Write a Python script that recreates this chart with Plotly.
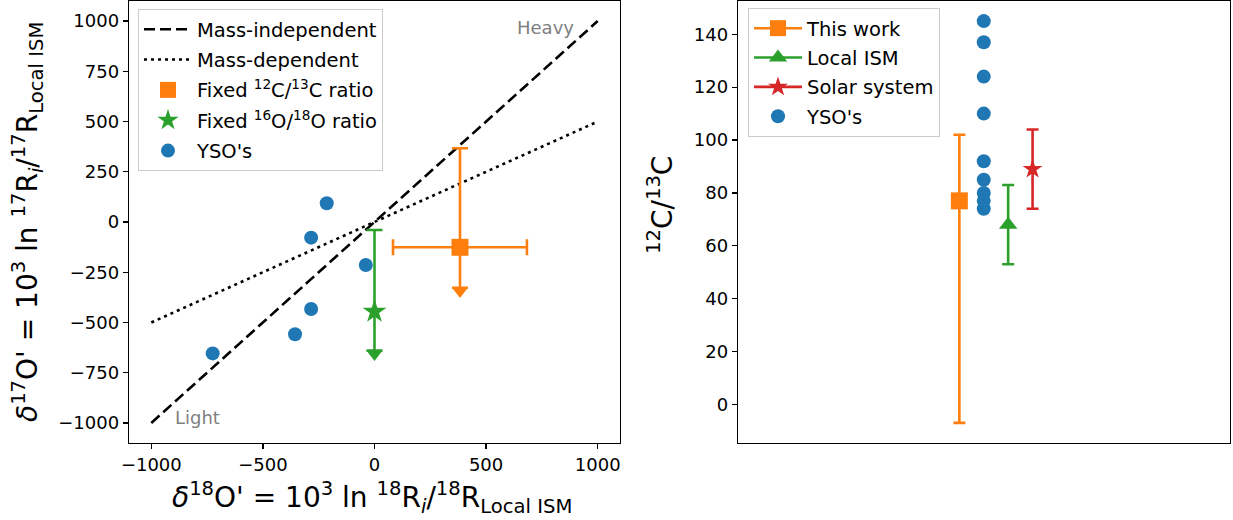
import plotly.graph_objects as go

# ---------------- data ----------------
# Left panel: reference lines
line_x = [-1000, 1000]
mass_indep_y = [-1000, 1000]
mass_dep_y = [-500, 500]

# YSO oxygen isotopes (delta18O', delta17O')
yso_d18 = [-214, -284, -39, -284, -356, -725]
yso_d17 = [93, -78, -214, -433, -559, -654]

# Fixed 12C/13C ratio point (with x error, upper y error, upper limit arrow)
fixc_x = [383]
fixc_y = [-126]
fixc_xerr = [300]
fixc_yerr_up = [493]
fixc_ylim = [-327]          # end of the downward error (upper limit)

# Fixed 16O/18O ratio point
fixo_x = [0]
fixo_y = [-446]
fixo_yerr_up = [406]
fixo_ylim = [-640]

# Right panel: 12C/13C ratios
this_work = [77]
this_work_up = [25]
this_work_down = [84]
local_ism = [68]
local_ism_err = [15]
solar = [89]
solar_err = [15]
yso_c = [145, 137, 124, 110, 92, 85, 80, 77, 74]
right_pos = [0, 1, 2, 3]   # This work, YSO's, Local ISM, Solar system

ORANGE = "#ff7f0e"
GREEN = "#2ca02c"
RED = "#d62728"
BLUE = "#1f77b4"
FONT = "DejaVu Sans"

fig = go.Figure()

# ---------- left panel ----------
fig.add_trace(go.Scatter(x=line_x, y=mass_indep_y, mode="lines", name="Mass-independent",
                         line=dict(color="black", width=2.6, dash="11px,5px"),
                         legendgroup="a", legend="legend"))
fig.add_trace(go.Scatter(x=line_x, y=mass_dep_y, mode="lines", name="Mass-dependent",
                         line=dict(color="black", width=2.6, dash="3px,4px"),
                         legendgroup="b", legend="legend"))

fixc_ylim_err = [fixc_y[0] - fixc_ylim[0]]
fixo_ylim_err = [fixo_y[0] - fixo_ylim[0]]
fig.add_trace(go.Scatter(x=fixc_x, y=fixc_y, mode="markers", name="Fixed <sup>12</sup>C/<sup>13</sup>C ratio",
                         marker=dict(symbol="square", size=17, color=ORANGE),
                         error_x=dict(type="data", array=fixc_xerr, color=ORANGE, thickness=2.6, width=8),
                         error_y=dict(type="data", symmetric=False, array=fixc_yerr_up,
                                      arrayminus=fixc_ylim_err, color=ORANGE, thickness=2.6, width=8),
                         legendgroup="c", legend="legend"))
fig.add_trace(go.Scatter(x=fixc_x, y=[fixc_ylim[0] - 17], mode="markers", showlegend=False,
                         marker=dict(symbol="triangle-down", size=14, color=ORANGE)))

fig.add_trace(go.Scatter(x=fixo_x, y=fixo_y, mode="markers", name="Fixed <sup>16</sup>O/<sup>18</sup>O ratio",
                         marker=dict(symbol="star", size=18, color=GREEN),
                         error_y=dict(type="data", symmetric=False, array=fixo_yerr_up,
                                      arrayminus=fixo_ylim_err, color=GREEN, thickness=2.6, width=8),
                         legendgroup="d", legend="legend"))
fig.add_trace(go.Scatter(x=fixo_x, y=[fixo_ylim[0] - 17], mode="markers", showlegend=False,
                         marker=dict(symbol="triangle-down", size=14, color=GREEN)))

fig.add_trace(go.Scatter(x=yso_d18, y=yso_d17, mode="markers", name="YSO's",
                         marker=dict(symbol="circle", size=14, color=BLUE),
                         legendgroup="e", legend="legend"))

# ---------- right panel ----------
fig.add_trace(go.Scatter(x=[right_pos[0]], y=this_work, mode="lines+markers", name="This work",
                         xaxis="x2", yaxis="y2",
                         line=dict(color=ORANGE, width=2.6),
                         marker=dict(symbol="square", size=17, color=ORANGE),
                         error_y=dict(type="data", symmetric=False, array=this_work_up,
                                      arrayminus=this_work_down, color=ORANGE, thickness=2.6, width=6),
                         legendgroup="f", legend="legend2"))
fig.add_trace(go.Scatter(x=[right_pos[2]], y=local_ism, mode="lines+markers", name="Local ISM",
                         xaxis="x2", yaxis="y2",
                         line=dict(color=GREEN, width=2.6),
                         marker=dict(symbol="triangle-up", size=16, color=GREEN),
                         error_y=dict(type="data", array=local_ism_err, color=GREEN, thickness=2.6, width=6),
                         legendgroup="g", legend="legend2"))
fig.add_trace(go.Scatter(x=[right_pos[3]], y=solar, mode="lines+markers", name="Solar system",
                         xaxis="x2", yaxis="y2",
                         line=dict(color=RED, width=2.6),
                         marker=dict(symbol="star", size=15, color=RED),
                         error_y=dict(type="data", array=solar_err, color=RED, thickness=2.6, width=6),
                         legendgroup="h", legend="legend2"))
fig.add_trace(go.Scatter(x=[right_pos[1]] * len(yso_c), y=yso_c, mode="markers", name="YSO's",
                         xaxis="x2", yaxis="y2",
                         marker=dict(symbol="circle", size=14, color=BLUE),
                         legendgroup="i", legend="legend2"))

axis_common = dict(showline=True, linecolor="black", linewidth=1.3, mirror=True,
                   ticks="outside", ticklen=5, tickwidth=1.2, tickcolor="black",
                   showgrid=False, zeroline=False, automargin=False,
                   tickfont=dict(family=FONT, size=18, color="black"))

fig.update_layout(
    template="none",
    width=1233, height=520,
    margin=dict(l=0, r=0, t=0, b=0, pad=0, autoexpand=False),
    paper_bgcolor="white", plot_bgcolor="white",
    font=dict(family=FONT, color="black"),
    hovermode=False,
    xaxis=dict(domain=[129 / 1233, 620 / 1233], range=[-1100, 1100],
               tickvals=[-1000, -500, 0, 500, 1000], anchor="y", **axis_common),
    yaxis=dict(domain=[77 / 520, 519 / 520], range=[-1100, 1100],
               tickvals=[-1000, -750, -500, -250, 0, 250, 500, 750, 1000], anchor="x", **axis_common),
    xaxis2=dict(domain=[738 / 1233, 1230 / 1233], range=[-9.07, 11.09], anchor="y2",
                showline=True, linecolor="black", linewidth=1.3, mirror=True, automargin=False,
                showticklabels=False, ticks="", showgrid=False, zeroline=False),
    yaxis2=dict(domain=[77 / 520, 519 / 520], range=[-14.6, 152.6], anchor="x2",
                tickvals=[0, 20, 40, 60, 80, 100, 120, 140], **axis_common),
    legend=dict(x=138 / 1233, y=511 / 520, xanchor="left", yanchor="top",
                bgcolor="rgba(255,255,255,0.8)", bordercolor="#cccccc", borderwidth=1,
                font=dict(family=FONT, size=19.5, color="black"), itemwidth=48,
                traceorder="grouped", tracegroupgap=2),
    legend2=dict(x=748 / 1233, y=512 / 520, xanchor="left", yanchor="top",
                 bgcolor="rgba(255,255,255,0.8)", bordercolor="#cccccc", borderwidth=1,
                 font=dict(family=FONT, size=19.5, color="black"), itemwidth=48,
                 traceorder="grouped", tracegroupgap=1),
    showlegend=True,
)

annots = [
    dict(text="Heavy", x=768, y=966, xref="x", yref="y", showarrow=False,
         font=dict(family=FONT, size=18, color="#808080")),
    dict(text="Light", x=-795, y=-971, xref="x", yref="y", showarrow=False,
         font=dict(family=FONT, size=18, color="#808080")),
    dict(text="<i>δ</i><sup>18</sup>O' = 10<sup>3</sup> ln <sup>18</sup>R<sub><i>i</i></sub>/<sup>18</sup>R<sub>Local ISM</sub>",
         x=372 / 1233, y=(520 - 497) / 520, xref="paper", yref="paper", showarrow=False,
         xanchor="center", yanchor="middle", font=dict(family=FONT, size=28, color="black")),
    dict(text="<i>δ</i><sup>17</sup>O' = 10<sup>3</sup> ln <sup>17</sup>R<sub><i>i</i></sub>/<sup>17</sup>R<sub>Local ISM</sub>",
         x=27 / 1233, y=(520 - 222) / 520, xref="paper", yref="paper", showarrow=False, textangle=-90,
         xanchor="center", yanchor="middle", font=dict(family=FONT, size=28, color="black")),
    dict(text="<sup>12</sup>C/<sup>13</sup>C",
         x=660 / 1233, y=(520 - 205) / 520, xref="paper", yref="paper", showarrow=False, textangle=-90,
         xanchor="center", yanchor="middle", font=dict(family=FONT, size=28, color="black")),
]
fig.update_layout(annotations=annots)

fig.write_html("out.html", config={"displayModeBar": False, "staticPlot": True},
               post_script="document.body.style.margin='0';document.body.style.overflow='hidden';")
